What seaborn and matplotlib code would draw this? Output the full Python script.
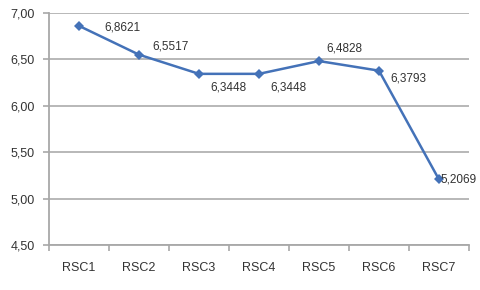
import matplotlib
matplotlib.use("Agg")
import matplotlib.pyplot as plt
import seaborn as sns
import pandas as pd
from matplotlib.ticker import FuncFormatter, FixedLocator

categories = ["RSC1", "RSC2", "RSC3", "RSC4", "RSC5", "RSC6", "RSC7"]
values = [6.8621, 6.5517, 6.3448, 6.3448, 6.4828, 6.3793, 5.2069]
value_labels = ["6,8621", "6,5517", "6,3448", "6,3448", "6,4828", "6,3793", "5,2069"]
y_ticks = [4.5, 5.0, 5.5, 6.0, 6.5, 7.0]

# label offsets in points (dx, dy)
label_offsets = [(18, -1), (10, 6), (8, -10), (8, -10), (5, 9), (8, -6), (1, 0)]

sns.set_theme(style="white")
plt.rcParams['font.family'] = ['Liberation Sans Narrow', 'Liberation Sans', 'DejaVu Sans']

df = pd.DataFrame({"cat": categories, "val": values})

fig = plt.figure(figsize=(4.8, 2.9), dpi=100)
ax = fig.add_axes([0.102, 0.155, 0.875, 0.80])

sns.lineplot(data=df, x="cat", y="val", ax=ax, color="#4472b8", linewidth=1.8,
             marker="D", markersize=5, markeredgewidth=0, sort=False)

ax.set_ylim(4.5, 7.0)
ax.set_xlim(-0.5, 6.5)
ax.set_yticks(y_ticks)
ax.yaxis.set_major_formatter(FuncFormatter(lambda v, p: f"{v:.2f}".replace(".", ",")))
ax.grid(axis="y", color="#b8b8b8", linewidth=1.4)
ax.grid(axis="x", visible=False)
ax.set_xlabel("")
ax.set_ylabel("")

for s in ["top", "right"]:
    ax.spines[s].set_visible(False)
for s in ["left", "bottom"]:
    ax.spines[s].set_color("#a8a8a8")
    ax.spines[s].set_linewidth(1.3)

ax.tick_params(axis="y", which="major", left=True, length=4, color="#a8a8a8", width=1.2,
               labelsize=9, labelcolor="#333333", pad=6)
ax.tick_params(axis="x", which="major", bottom=True, length=0, labelsize=9,
               labelcolor="#333333", pad=12)
ax.xaxis.set_minor_locator(FixedLocator([i - 0.5 for i in range(len(categories) + 1)]))
ax.tick_params(axis="x", which="minor", bottom=True, length=4, color="#a8a8a8",
               width=1.2, direction="out")
ax.set_axisbelow(True)

for i, (v, lab) in enumerate(zip(values, value_labels)):
    dx, dy = label_offsets[i]
    ax.annotate(lab, (i, v), xytext=(dx, dy), textcoords="offset points",
                ha="left", va="center", fontsize=8.5, color="#333333")

fig.savefig("out.png", dpi=100)
